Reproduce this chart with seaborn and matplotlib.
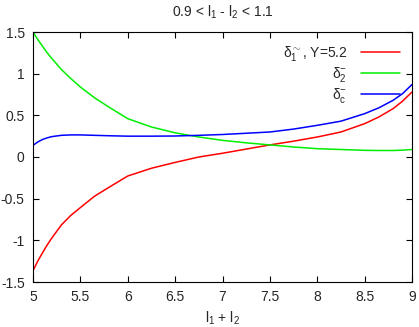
## Recreate the delta-vs-(l1+l2) line chart in gnuplot style with seaborn.

import numpy as np
import pandas as pd
import matplotlib
matplotlib.use('Agg')
import matplotlib.pyplot as plt
import seaborn as sns

x_vals = [5.0, 5.05, 5.1, 5.15, 5.2, 5.3, 5.4, 5.5, 5.65, 5.8, 6.0, 6.25, 6.5, 6.75,
          7.0, 7.25, 7.5, 7.75, 8.0, 8.25, 8.5, 8.65, 8.8, 8.9, 9.0]

delta_1 = [-1.365, -1.25, -1.15, -1.055, -0.97, -0.815, -0.70, -0.607, -0.47,
           -0.365, -0.228, -0.135, -0.065, 0.0, 0.045, 0.095, 0.145, 0.19,
           0.24, 0.30, 0.40, 0.48, 0.58, 0.67, 0.78]
delta_2 = [1.5, 1.41, 1.33, 1.25, 1.18, 1.05, 0.94, 0.84, 0.71, 0.60, 0.46,
           0.36, 0.29, 0.24, 0.20, 0.17, 0.145, 0.12, 0.10, 0.09, 0.08, 0.078,
           0.078, 0.082, 0.09]
delta_c = [0.14, 0.18, 0.21, 0.23, 0.245, 0.26, 0.265, 0.265, 0.26, 0.255,
           0.25, 0.25, 0.252, 0.26, 0.27, 0.285, 0.30, 0.335, 0.38, 0.43,
           0.52, 0.59, 0.68, 0.76, 0.87]

labels = ['δ$_1^{\\sim}$, Y=5.2', 'δ$_2^{-}$', 'δ$_c^{-}$']
colors = ['#ff0000', '#00ee00', '#0000ff']

x_ticks = [5, 5.5, 6, 6.5, 7, 7.5, 8, 8.5, 9]
x_ticklabels = ['5', '5.5', '6', '6.5', '7', '7.5', '8', '8.5', '9']
y_ticks = [-1.5, -1, -0.5, 0, 0.5, 1, 1.5]
y_ticklabels = ['-1.5', '-1', '-0.5', '0', '0.5', '1', '1.5']

df = pd.DataFrame({
    'x': x_vals * 3,
    'y': delta_1 + delta_2 + delta_c,
    'series': [labels[0]] * len(x_vals) + [labels[1]] * len(x_vals) + [labels[2]] * len(x_vals),
})

sns.set_style('ticks')
plt.rcParams['font.family'] = ['Liberation Sans', 'DejaVu Sans']
plt.rcParams['mathtext.fontset'] = 'custom'
plt.rcParams['mathtext.rm'] = 'Liberation Sans'
plt.rcParams['mathtext.it'] = 'Liberation Sans'
plt.rcParams['axes.unicode_minus'] = False

fig = plt.figure(figsize=(4.19, 3.27), dpi=100)
ax = fig.add_axes([33 / 419, 45 / 327, 379 / 419, 250 / 327])

sns.lineplot(data=df, x='x', y='y', hue='series', palette=colors, ax=ax,
             linewidth=1.1, legend=True)

ax.set_xlim(5, 9)
ax.set_ylim(-1.5, 1.5)
ax.set_xticks(x_ticks)
ax.set_xticklabels(x_ticklabels)
ax.set_yticks(y_ticks)
ax.set_yticklabels(y_ticklabels)
ax.tick_params(direction='in', length=4, width=0.8, labelsize=10, color='black',
               top=True, right=True, pad=6)
for s in ax.spines.values():
    s.set_linewidth(0.8)
    s.set_color('black')

ax.set_xlabel(r'l$_1$ + l$_2$', fontsize=10, labelpad=4)
ax.set_ylabel('')
ax.set_title(r'0.9 < l$_1$ - l$_2$ < 1.1', fontsize=10, pad=11)

handles, labs = ax.get_legend_handles_labels()
ax.legend(handles, labs, loc='upper right', frameon=False, markerfirst=False,
          fontsize=10, handlelength=2.8, handletextpad=1.0, labelspacing=0.15,
          borderaxespad=0.45)

fig.savefig('out.png', dpi=100)
